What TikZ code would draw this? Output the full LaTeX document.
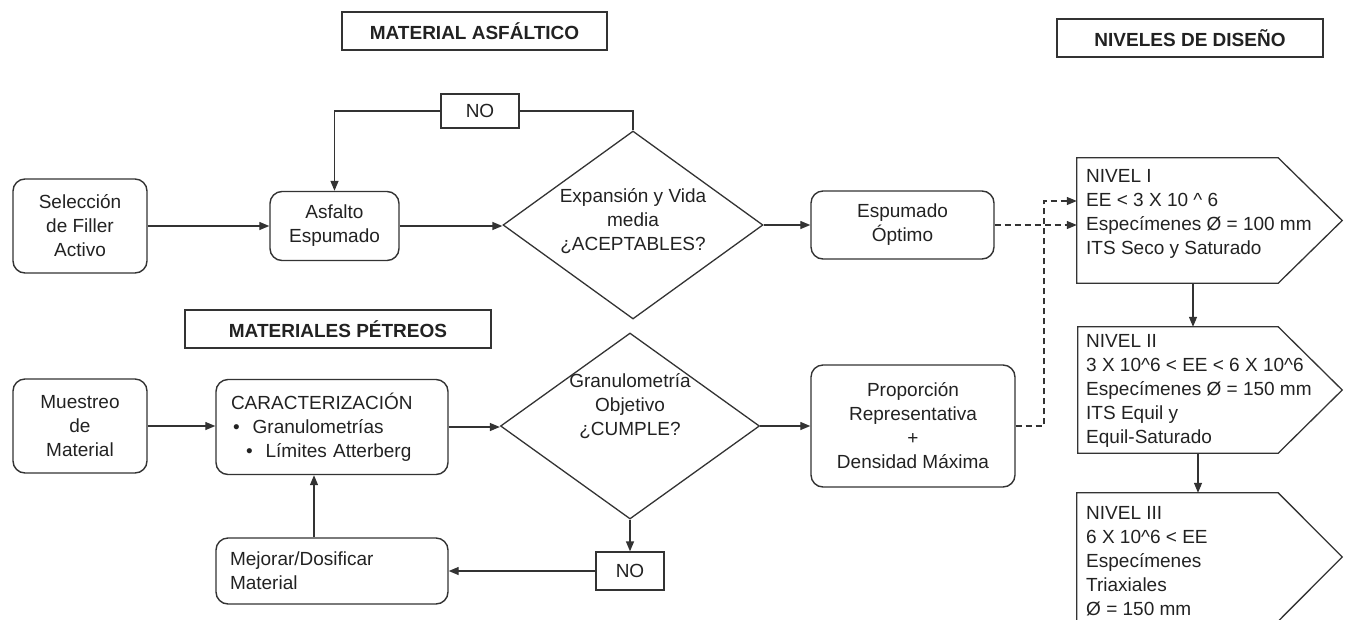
\documentclass[tikz,border=0pt]{standalone}
\usepackage{fontspec}
\setmainfont{Liberation Sans}
\usetikzlibrary{arrows.meta,shapes.geometric,calc}
\definecolor{ln}{HTML}{333333}
\definecolor{txt}{HTML}{222222}
\begin{document}
\begin{tikzpicture}[x=1pt,y=-1pt,
  every node/.style={font=\fontsize{19}{24}\selectfont, text=txt, inner sep=0pt},
  rbox/.style={draw=ln, line width=1.4pt, rounded corners=12pt, align=center},
  sbox/.style={draw=ln, line width=1.3pt, rectangle, align=center},
  ttl/.style={sbox, font=\fontsize{19}{24}\selectfont\bfseries},
  dec/.style={diamond, draw=ln, line width=1.3pt},
  shp/.style={draw=ln, line width=1.3pt},
  arr/.style={draw=ln, line width=1.3pt, -{Triangle[length=10pt,width=8pt]}},
  lin/.style={draw=ln, line width=1.3pt},
  darr/.style={draw=ln, line width=1.2pt, dash pattern=on 6pt off 4pt, -{Triangle[length=10pt,width=8pt]}}
]
\useasboundingbox (0,0) rectangle (1351,619);

% titles
\node[ttl, minimum width=265pt, minimum height=38pt] (t1) at (474.5,31) {MATERIAL ASFÁLTICO};
\node[ttl, minimum width=266pt, minimum height=38pt] (t2) at (1190,38) {NIVELES DE DISEÑO};
\node[ttl, minimum width=306pt, minimum height=38pt] (t3) at (338,329) {MATERIALES PÉTREOS};

% upper row
\node[rbox, minimum width=134pt, minimum height=94pt] (sel) at (80,226) {Selección\\de Filler\\Activo};
\node[rbox, minimum width=129pt, minimum height=69pt] (asf) at (334.5,226) {Asfalto\\Espumado};
\node[dec, minimum width=260pt, minimum height=188pt] (d1) at (633,225) {};
\node[align=center] (d1t) at (633,221) {Expansión y Vida\\media\\¿ACEPTABLES?};
\node[rbox, minimum width=183pt, minimum height=68pt] (esp) at (902.5,225) {Espumado\\Óptimo};
\node[sbox, minimum width=78pt, minimum height=34pt] (no1) at (480,111) {NO};

% lower row
\node[rbox, minimum width=134pt, minimum height=94pt] (mue) at (80,426) {Muestreo\\de\\Material};
\node[rbox, minimum width=232pt, minimum height=95pt, text width=202pt, align=left] (car) at (332,427)
  {CARACTERIZACIÓN\\\hspace*{2pt}\textbullet\hspace{13pt}Granulometrías\\\hspace*{15pt}\textbullet\hspace{13pt}Límites Atterberg};
\node[dec, minimum width=259pt, minimum height=186pt] (d2) at (630,426) {};
\node[align=center] (d2t) at (630,406) {Granulometría\\Objetivo\\¿CUMPLE?};
\node[rbox, minimum width=204pt, minimum height=122pt] (pro) at (913,426) {Proporción\\Representativa\\+\\Densidad Máxima};
\node[sbox, minimum width=68pt, minimum height=38pt] (no2) at (630,571) {NO};
\node[rbox, minimum width=232pt, minimum height=66pt, text width=204pt, align=left] (mej) at (332,571) {Mejorar/Dosificar\\Material};

% design levels
\node[minimum width=265pt, minimum height=125pt] (n1) at (1209.5,220.5) {};
\node[minimum width=264pt, minimum height=126pt] (n2) at (1210,390) {};
\node[minimum width=265pt, minimum height=128pt] (n3) at (1209.5,557) {};
\foreach \n in {n1,n2,n3}{
  \draw[shp] (\n.north west) -- ($(\n.north east)+(-64,0)$) -- (\n.east) -- ($(\n.south east)+(-64,0)$) -- (\n.south west) -- cycle;
}
\node[anchor=north west, align=left] (n1t) at (1086,169) {NIVEL I\\EE < 3 X 10 \textasciicircum\ 6\\Especímenes Ø = 100 mm\\ITS Seco y Saturado};
\node[anchor=north west, align=left] (n2t) at (1086,334) {NIVEL II\\3 X 10\textasciicircum{}6 < EE < 6 X 10\textasciicircum{}6\\Especímenes Ø = 150 mm\\ITS Equil y\\Equil-Saturado};
\node[anchor=north west, align=left] (n3t) at (1086,506) {NIVEL III\\6 X 10\textasciicircum{}6 < EE\\Especímenes\\Triaxiales\\Ø = 150 mm};

% helper coordinates
\coordinate (x1) at (1193,0);
\coordinate (x2) at (1198,0);
\coordinate (mx) at (314,0);
\coordinate (vx) at (1044,201);

% connectors upper
\draw[arr] (sel.east) -- (sel.east -| asf.west);
\draw[arr] (asf.east) -- (asf.east -| d1.west);
\draw[arr] (d1.east) -- (d1.east -| esp.west);
\draw[lin] (d1.north) |- (no1.east);
\draw[arr] (no1.west) -| (asf.north);

% connectors lower
\draw[arr] (mue.east) -- (mue.east -| car.west);
\draw[arr] (car.east) -- (car.east -| d2.west);
\draw[arr] (d2.east) -- (d2.east -| pro.west);
\draw[arr] (d2.south) -- (no2.north);
\draw[arr] (no2.west) -- (no2.west -| mej.east);
\draw[arr] (mx |- mej.north) -- (mx |- car.south);

% dashed to levels
\draw[darr] (esp.east) -- (esp.east -| n1.west);
\draw[darr] (pro.east) -| (vx) -- (vx -| n1.west);

% between levels
\draw[arr] (x1 |- n1.south) -- (x1 |- n2.north);
\draw[arr] (x2 |- n2.south) -- (x2 |- n3.north);
\end{tikzpicture}
\end{document}
